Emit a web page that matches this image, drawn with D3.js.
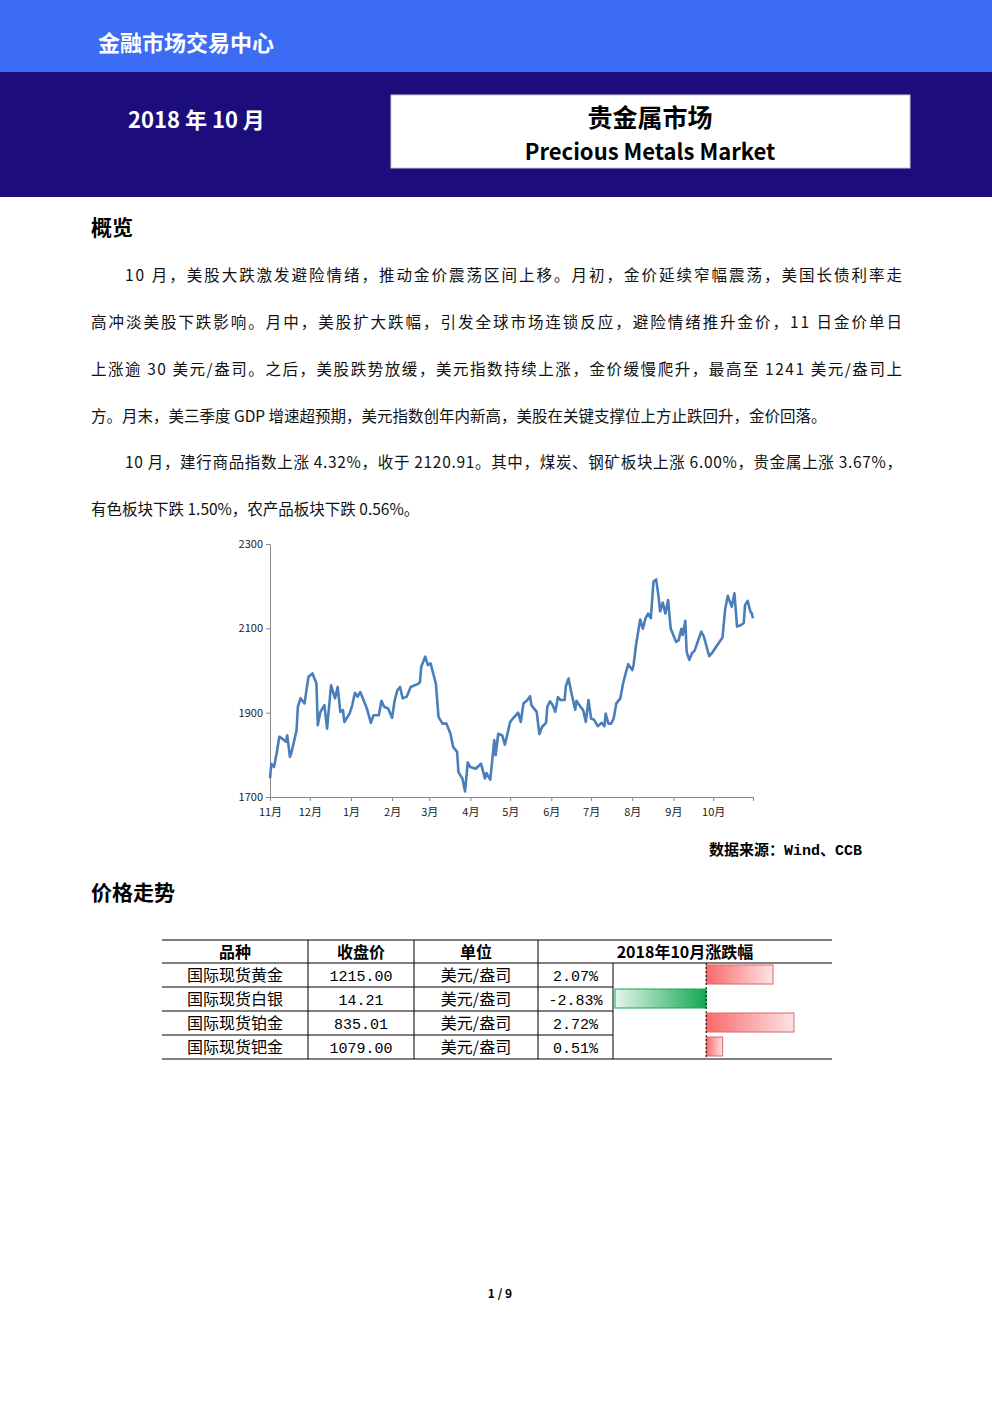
<!DOCTYPE html>
<html lang="zh">
<head>
<meta charset="UTF-8">
<title>贵金属市场</title>
<style>
body { margin: 0; background: #fff; }
svg text { font-family: "Noto Sans CJK SC", "Noto Sans", sans-serif; }
svg text.serif { font-family: "Liberation Mono", "DejaVu Sans Mono", "Noto Sans CJK SC", monospace; }
.priceLine { fill: none; stroke: #4a7ebb; stroke-width: 2.6; stroke-linejoin: round; }
.axis path, .axis line { stroke: #888; }
.axis text { font-size: 11px; fill: #222; font-family: "Noto Sans CJK SC", sans-serif; }
</style>
</head>
<body>
<div id="page"></div>
<script src="https://d3js.org/d3.v7.min.js"></script>
<script>
// days since 2017-11-01 and gold price (CNY index level)
const dayOffsets = [0,1,3,5,7,9,12,13,15,16,20,21,23,26,29,32,35,36,38,41,43,46,49,51,53,55,56,60,62,64,66,68,71,73,76,78,82,84,86,89,92,94,96,98,100,103,106,112,113,114,117,119,121,124,125,127,130,133,136,138,141,142,145,147,149,151,155,159,162,163,166,169,170,172,175,177,181,183,187,189,191,194,196,197,201,203,205,208,209,211,213,215,217,219,222,223,225,227,230,231,234,236,238,240,242,244,247,250,252,253,255,257,259,261,264,266,268,270,273,274,276,279,281,283,285,287,289,291,293,294,296,298,300,302,306,308,310,311,313,314,316,318,320,323,325,327,331,333,337,341,343,345,346,348,350,352,355,357,358,360,362,363,364];
const prices = [1744,1779,1771,1803,1843,1839,1831,1846,1795,1803,1858,1914,1934,1922,1985,1993,1969,1870,1902,1918,1862,1965,1934,1961,1902,1906,1878,1898,1918,1947,1938,1949,1926,1910,1876,1894,1894,1928,1914,1910,1888,1930,1953,1961,1934,1938,1961,1969,1973,2009,2033,2013,2017,1981,1969,1890,1874,1874,1850,1819,1807,1759,1744,1713,1782,1771,1767,1779,1744,1757,1741,1835,1799,1850,1846,1824,1878,1886,1900,1878,1922,1930,1939,1918,1902,1849,1866,1876,1914,1927,1918,1902,1937,1930,1930,1963,1981,1949,1907,1928,1914,1906,1878,1930,1886,1884,1868,1876,1868,1898,1874,1874,1886,1922,1934,1968,1993,2015,2001,2013,2064,2121,2099,2124,2135,2124,2211,2216,2171,2140,2161,2135,2167,2099,2068,2072,2099,2084,2118,2044,2025,2041,2047,2074,2092,2080,2034,2041,2060,2078,2145,2177,2168,2151,2183,2104,2108,2112,2155,2165,2140,2136,2124];
const monthLabels = ["11月","12月","1月","2月","3月","4月","5月","6月","7月","8月","9月","10月"];
const yTicks = [1700, 1900, 2100, 2300];

const products = ["国际现货黄金","国际现货白银","国际现货铂金","国际现货钯金"];
const closes = ["1215.00","14.21","835.01","1079.00"];
const units = ["美元/盎司","美元/盎司","美元/盎司","美元/盎司"];
const changes = [2.07, -2.83, 2.72, 0.51];

const para1 = [
  "10 月，美股大跌激发避险情绪，推动金价震荡区间上移。月初，金价延续窄幅震荡，美国长债利率走",
  "高冲淡美股下跌影响。月中，美股扩大跌幅，引发全球市场连锁反应，避险情绪推升金价，11 日金价单日",
  "上涨逾 30 美元/盎司。之后，美股跌势放缓，美元指数持续上涨，金价缓慢爬升，最高至 1241 美元/盎司上",
  "方。月末，美三季度 GDP 增速超预期，美元指数创年内新高，美股在关键支撑位上方止跌回升，金价回落。"
];
const para2 = [
  "10 月，建行商品指数上涨 4.32%，收于 2120.91。其中，煤炭、钢矿板块上涨 6.00%，贵金属上涨 3.67%，",
  "有色板块下跌 1.50%，农产品板块下跌 0.56%。"
];

const W = 992, H = 1403;
const svg = d3.select("#page").append("svg").attr("width", W).attr("height", H);

// header
svg.append("rect").attr("x",0).attr("y",0).attr("width",W).attr("height",72).attr("fill","#3c6cf4");
svg.append("text").attr("x",98).attr("y",51).attr("fill","#fff").attr("font-size",22).attr("font-weight","bold").text("金融市场交易中心");
svg.append("rect").attr("x",0).attr("y",72).attr("width",W).attr("height",125).attr("fill","#1c0c7c");
svg.append("text").attr("x",128).attr("y",128).attr("fill","#fff").attr("font-size",22).attr("font-weight","bold").text("2018 年 10 月");
svg.append("rect").attr("x",391).attr("y",95).attr("width",519).attr("height",73).attr("fill","#fff").attr("stroke","#ccc");
svg.append("text").attr("x",650).attr("y",127).attr("text-anchor","middle").attr("font-size",25).attr("font-weight","bold").text("贵金属市场");
svg.append("text").attr("x",650).attr("y",160).attr("text-anchor","middle").attr("font-size",22).attr("font-weight","bold").text("Precious Metals Market");

// body text
svg.append("text").attr("x",91).attr("y",235).attr("font-size",21).attr("font-weight","bold").text("概览");
function para(lines, y0) {
  lines.forEach((t, i) => {
    const x = i === 0 ? 125 : 91;
    const full = i < lines.length - 1;
    const el = svg.append("text").attr("x", x).attr("y", y0 + i * 47).attr("font-size", 15.5).attr("fill","#111").text(t);
    if (full) el.attr("textLength", 902 - x).attr("lengthAdjust", "spacing");
  });
}
para(para1, 281);
para(para2, 468);

// chart
const cx0 = 270, cx1 = 753, cy0 = 544, cy1 = 797;
const start = new Date(2017, 10, 1);
const dayToDate = d => new Date(start.getTime() + d * 86400000);
const x = d3.scaleTime().domain([start, new Date(2018, 9, 31)]).range([cx0, cx1]);
const y = d3.scaleLinear().domain([1700, 2300]).range([cy1, cy0]);

const monthTicks = d3.range(12).map(i => new Date(2017, 10 + i, 1));
const xAxis = d3.axisBottom(x).tickValues(monthTicks.concat([new Date(2018, 9, 31)]))
  .tickFormat((d, i) => monthLabels[i] || "").tickSizeOuter(0).tickSize(4);
const gx = svg.append("g").attr("class","axis").attr("transform",`translate(0,${cy1})`).call(xAxis);
gx.selectAll("text").attr("dy", "1.1em");
const yAxis = d3.axisLeft(y).tickValues(yTicks).tickFormat(d3.format("d")).tickSize(4).tickSizeOuter(0);
svg.append("g").attr("class","axis").attr("transform",`translate(${cx0},0)`).call(yAxis);

const line = d3.line().x((d, i) => x(dayToDate(dayOffsets[i]))).y(d => y(d));
svg.append("path").datum(prices).attr("class","priceLine").attr("d", line);

svg.append("text").attr("x",862).attr("y",855).attr("text-anchor","end").attr("font-size",15).attr("font-weight","bold")
  .attr("class","serif").text("数据来源：Wind、CCB");

svg.append("text").attr("x",91).attr("y",900).attr("font-size",21).attr("font-weight","bold").text("价格走势");

// table
const cols = [162, 308, 414, 538, 613, 707, 832];
const rowTop = 940, hdrH = 23, rowH = 24;
const tbl = svg.append("g");
tbl.append("line").attr("x1",162).attr("x2",832).attr("y1",rowTop).attr("y2",rowTop).attr("stroke","#000");
tbl.append("line").attr("x1",162).attr("x2",832).attr("y1",rowTop+hdrH).attr("y2",rowTop+hdrH).attr("stroke","#000");
const tblBottom = rowTop + hdrH + rowH * 4;
tbl.append("line").attr("x1",162).attr("x2",832).attr("y1",tblBottom).attr("y2",tblBottom).attr("stroke","#000");
[308,414,538].forEach(c => tbl.append("line").attr("x1",c).attr("x2",c).attr("y1",rowTop).attr("y2",tblBottom).attr("stroke","#000"));
tbl.append("line").attr("x1",613).attr("x2",613).attr("y1",rowTop+hdrH).attr("y2",tblBottom).attr("stroke","#000");
for (let i = 1; i < 4; i++) {
  tbl.append("line").attr("x1",162).attr("x2",613).attr("y1",rowTop+hdrH+i*rowH).attr("y2",rowTop+hdrH+i*rowH).attr("stroke","#000");
}
const hdr = ["品种","收盘价","单位"];
hdr.forEach((t, i) => tbl.append("text").attr("x",(cols[i]+cols[i+1])/2).attr("y",rowTop+18).attr("text-anchor","middle")
  .attr("font-size",16).attr("font-weight","bold").text(t));
tbl.append("text").attr("x",(538+832)/2).attr("y",rowTop+18).attr("text-anchor","middle").attr("font-size",16).attr("font-weight","bold").text("2018年10月涨跌幅");

const defs = svg.append("defs");
const gr = defs.append("linearGradient").attr("id","gRed");
gr.append("stop").attr("offset","0%").attr("stop-color","#f8696b");
gr.append("stop").attr("offset","100%").attr("stop-color","#fde4e4");
const gg = defs.append("linearGradient").attr("id","gGreen");
gg.append("stop").attr("offset","0%").attr("stop-color","#e4f5eb");
gg.append("stop").attr("offset","100%").attr("stop-color","#14a850");

const bx = d3.scaleLinear().domain([-2.89, 3.9]).range([613, 832]);
products.forEach((p, i) => {
  const ty = rowTop + hdrH + i * rowH + 18;
  tbl.append("text").attr("x",(162+308)/2).attr("y",ty).attr("text-anchor","middle").attr("font-size",16).text(p);
  tbl.append("text").attr("class","serif").attr("x",(308+414)/2).attr("y",ty).attr("text-anchor","middle").attr("font-size",15).text(closes[i]);
  tbl.append("text").attr("x",(414+538)/2).attr("y",ty).attr("text-anchor","middle").attr("font-size",16).text(units[i]);
  tbl.append("text").attr("class","serif").attr("x",(538+613)/2).attr("y",ty).attr("text-anchor","middle").attr("font-size",15)
    .text(changes[i].toFixed(2) + "%");
  const v = changes[i];
  const x0 = bx(Math.min(0, v)), x1 = bx(Math.max(0, v));
  tbl.append("rect").attr("x",x0).attr("y",rowTop+hdrH+i*rowH+2).attr("width",x1-x0).attr("height",rowH-5)
    .attr("fill", v > 0 ? "url(#gRed)" : "url(#gGreen)").attr("stroke", v > 0 ? "#e06666" : "#14a850").attr("stroke-width",1);
});
tbl.append("line").attr("x1",bx(0)).attr("x2",bx(0)).attr("y1",rowTop+hdrH).attr("y2",tblBottom)
  .attr("stroke","#000").attr("stroke-dasharray","2 2");

svg.append("text").attr("x",500).attr("y",1298).attr("text-anchor","middle").attr("font-size",12).attr("font-weight","bold").text("1 / 9");
</script>
</body>
</html>
